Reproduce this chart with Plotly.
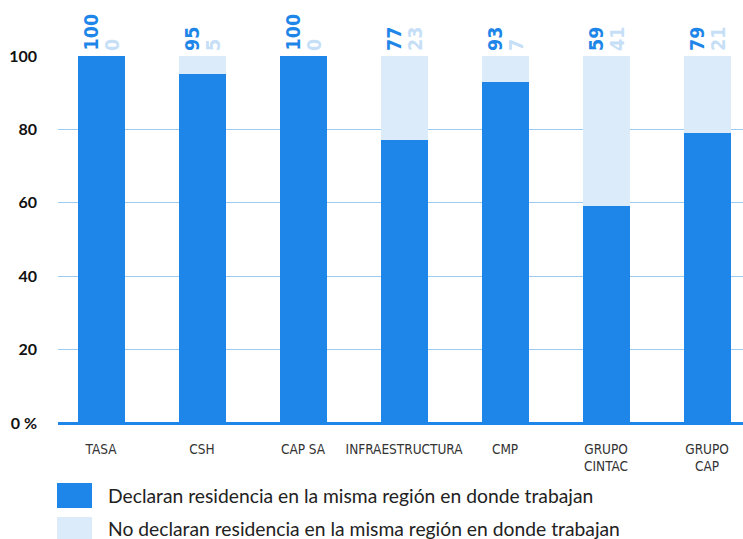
import plotly.graph_objects as go

categories = ["TASA", "CSH", "CAP SA", "INFRAESTRUCTURA", "CMP", "GRUPO<br>CINTAC", "GRUPO<br>CAP"]
declaran = [100, 95, 100, 77, 93, 59, 79]
no_declaran = [0, 5, 0, 23, 7, 41, 21]
series_names = [
    "Declaran residencia en la misma región en donde trabajan",
    "No declaran residencia en la misma región en donde trabajan",
]
ytick_vals = [0, 20, 40, 60, 80, 100]
ytick_text = ["0 %", "20", "40", "60", "80", "100"]

DARK = "#1E86E8"
LIGHT = "#DBEBFA"
LIGHT_TXT = "#C6DFF7"
GRID = "#9CCBF2"
COND = "DejaVu Sans Condensed, Roboto Condensed, Liberation Sans Narrow, Roboto, sans-serif"

fig = go.Figure()
fig.add_trace(go.Bar(x=categories, y=declaran, name=series_names[0],
                     marker=dict(color=DARK, line=dict(width=0)), width=0.465))
fig.add_trace(go.Bar(x=categories, y=no_declaran, name=series_names[1],
                     marker=dict(color=LIGHT, line=dict(width=0)), width=0.465))

annotations = []
for c, d, n in zip(categories, declaran, no_declaran):
    annotations.append(dict(x=c, y=100, xref="x", yref="y", text=str(d), textangle=-90,
                            showarrow=False, xanchor="center", yanchor="bottom",
                            xshift=-10, yshift=3,
                            font=dict(family=COND, size=19.5, color=DARK, weight="bold")))
    annotations.append(dict(x=c, y=100, xref="x", yref="y", text=str(n), textangle=-90,
                            showarrow=False, xanchor="center", yanchor="bottom",
                            xshift=11, yshift=3,
                            font=dict(family=COND, size=19.5, color=LIGHT_TXT, weight="bold")))

# manual legend
L, PW = 58, 685
T, PH = 56, 367
def px(v):
    return (v - L) / PW
def py(v):
    return (423 - v) / PH

shapes = []
legend_rows = [(483, 508, 495, DARK), (517, 545, 528, LIGHT)]
for (y_top, y_bot, y_txt, col), name in zip(legend_rows, series_names):
    shapes.append(dict(type="rect", xref="paper", yref="paper",
                       x0=px(57), x1=px(92), y0=py(y_bot), y1=py(y_top),
                       fillcolor=col, line=dict(width=0), layer="above"))
    annotations.append(dict(x=px(106), y=py(y_txt), xref="paper", yref="paper", text=name,
                            showarrow=False, xanchor="left", yanchor="middle",
                            font=dict(family="Lato", size=19.3, color="#222222")))

fig.update_layout(
    width=743, height=539,
    margin=dict(l=58, r=0, t=56, b=116),
    paper_bgcolor="white", plot_bgcolor="white",
    barmode="stack", showlegend=False,
    annotations=annotations, shapes=shapes,
    xaxis=dict(range=[-0.426, 6.356], showgrid=False, zeroline=False, showline=False,
               ticks="", ticklabelstandoff=16,
               tickfont=dict(family=COND, size=13.5, color="#333333"),
               fixedrange=True),
    yaxis=dict(range=[0, 100], tickvals=ytick_vals, ticktext=ytick_text,
               showgrid=True, gridcolor=GRID, gridwidth=1.2,
               zeroline=True, zerolinecolor=DARK, zerolinewidth=2.5, showline=False,
               ticks="", ticklabelstandoff=20,
               tickfont=dict(family="Lato", size=16, color="#111111", weight="bold"),
               fixedrange=True),
)

fig.write_html("out.html", config={"displayModeBar": False},
               post_script="document.body.style.margin='0';document.body.style.overflow='hidden';")
